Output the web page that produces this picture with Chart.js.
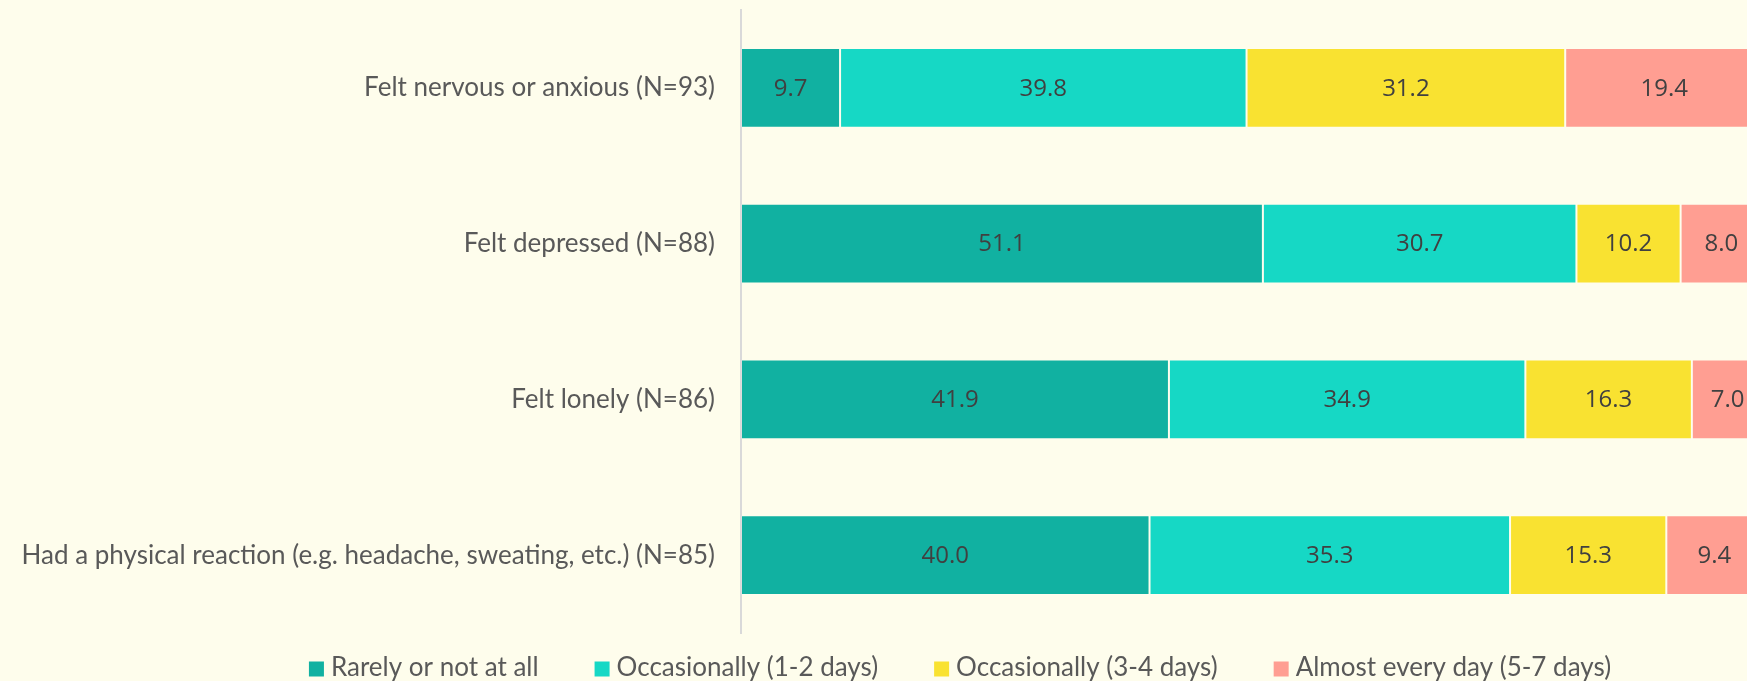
<!DOCTYPE html>
<html>
<head>
<meta charset="utf-8">
<script src="https://cdn.jsdelivr.net/npm/chart.js@4"></script>
<style>
  html, body { margin: 0; padding: 0; background: #fefdec; }
  #wrap { width: 1747px; height: 681px; }
</style>
</head>
<body>
<div id="wrap"><canvas id="myBarChart"></canvas></div>
<script>
const categories = [
  "Felt nervous or anxious (N=93)",
  "Felt depressed (N=88)",
  "Felt lonely (N=86)",
  "Had a physical reaction (e.g. headache, sweating, etc.) (N=85)",
];
const seriesNames = [
  "Rarely or not at all",
  "Occasionally (1-2 days)",
  "Occasionally (3-4 days)",
  "Almost every day (5-7 days)",
];
const rarely = [9.7, 51.1, 41.9, 40.0];
const occ12 = [39.8, 30.7, 34.9, 35.3];
const occ34 = [31.2, 10.2, 16.3, 15.3];
const almost = [19.4, 8.0, 7.0, 9.4];

const colors = ["#11b1a1", "#16d8c5", "#f9e231", "#ff9e92"];
const labelFont = "Lato, 'Open Sans', sans-serif";

// value labels in the middle of each bar piece
const valueLabels = {
  id: "valueLabels",
  afterDatasetsDraw(chart) {
    const ctx = chart.ctx;
    ctx.save();
    ctx.font = "24px 'Open Sans'";
    ctx.fillStyle = "#404040";
    ctx.textAlign = "center";
    ctx.textBaseline = "middle";
    chart.data.datasets.forEach(function (ds, i) {
      chart.getDatasetMeta(i).data.forEach(function (bar, j) {
        const cx = (bar.x + bar.base) / 2;
        ctx.fillText(ds.data[j].toFixed(1), cx, bar.y + 1);
      });
    });
    ctx.restore();
  },
};

// legend drawn under the plot, items spaced like the original
const bottomLegend = {
  id: "bottomLegend",
  afterDraw(chart) {
    const ctx = chart.ctx;
    const box = 15;
    const gapText = 7;
    const gapItem = 56;
    ctx.save();
    ctx.font = "26px " + labelFont;
    ctx.textBaseline = "middle";
    const widths = chart.data.datasets.map((ds) => ctx.measureText(ds.label).width);
    let total = 0;
    widths.forEach((w) => (total += box + gapText + w));
    total += gapItem * (widths.length - 1);
    let x = 960 - total / 2;
    const y = 667;
    chart.data.datasets.forEach(function (ds, i) {
      ctx.fillStyle = ds.backgroundColor;
      ctx.fillRect(x, y - box / 2 + 2, box, box);
      ctx.fillStyle = "#595959";
      ctx.fillText(ds.label, x + box + gapText, y + 1);
      x += box + gapText + widths[i] + gapItem;
    });
    ctx.restore();
  },
};

const seriesData = [rarely, occ12, occ34, almost];

const ctbx = document.getElementById("myBarChart").getContext("2d");

const myBarChart = new Chart(ctbx, {
  type: "bar",
  data: {
    labels: categories,
    datasets: seriesData.map(function (values, i) {
      return {
        label: seriesNames[i],
        data: values,
        backgroundColor: colors[i],
        borderColor: "rgba(255,255,255,0.12)",
        borderWidth: 1,
        borderSkipped: false,
        categoryPercentage: 1,
        barPercentage: 0.513,
      };
    }),
  },
  options: {
    indexAxis: "y",
    responsive: true,
    maintainAspectRatio: false,
    animation: false,
    layout: {
      padding: { top: 10, right: 0, bottom: 48, left: 0 },
    },
    plugins: {
      legend: { display: false },
      tooltip: { enabled: false },
    },
    scales: {
      x: {
        stacked: true,
        display: false,
        min: 0,
        // the original plot runs a bit past the right edge of the picture
        max: 98.5,
      },
      y: {
        stacked: true,
        grid: { display: false, drawTicks: false },
        border: { display: true, color: "#d9d9d9", width: 2 },
        ticks: {
          color: "#595959",
          font: { family: labelFont, size: 26 },
          padding: 26,
        },
        afterFit(scale) {
          scale.width = 741;
          scale.paddingTop = 0;
          scale.paddingBottom = 0;
        },
      },
    },
  },
  plugins: [valueLabels, bottomLegend],
});
</script>
</body>
</html>
